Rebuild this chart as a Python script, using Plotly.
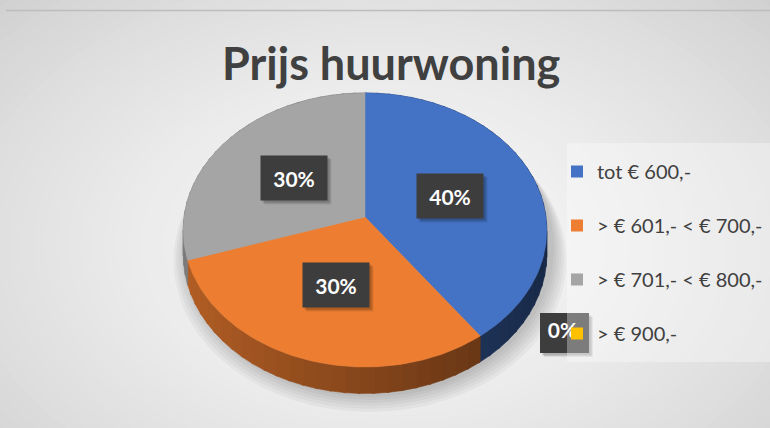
import numpy as np
import plotly.graph_objects as go

# ---------------- data ----------------
categories = ["tot € 600,-", "> € 601,- < € 700,-", "> € 701,- < € 800,-", "> € 900,-"]
values = [40, 30, 30, 0]
colors = ["#4472C4", "#ED7D31", "#A5A5A5", "#FFC000"]
title_text = "Prijs huurwoning"

# ---------------- geometry (pixel-like data space) ----------------
CX, CY = 365.0, 217.0      # pie centre
A, B = 181.0, 135.8        # semi-axes of the tilted disc
P = 0.0948                 # perspective factor
DEPTH = 24.0               # thickness of the pie
LABEL_R = 0.5              # radial position of labels

total = float(sum(values))
shares = [v / total for v in values]
starts = np.concatenate([[0.0], np.cumsum(shares)[:-1]]) * 360.0
ends = np.cumsum(shares) * 360.0


def proj(theta_deg, r=1.0):
    t = np.radians(theta_deg)
    X = r * np.sin(t)
    Z = r * np.cos(t)
    s = 1.0 / (1.0 + P * Z)
    return CX + A * X * s, CY - B * Z * s, s


def hex_to_rgb(h):
    h = h.lstrip("#")
    return tuple(int(h[i:i + 2], 16) for i in (0, 2, 4))


def shade(hexcol, f):
    r, g, b = hex_to_rgb(hexcol)
    return "rgb(%d,%d,%d)" % (int(r * f), int(g * f), int(b * f))


fig = go.Figure()

# ---- side walls (drawn first, hidden at the back by the top faces) ----
for i, (a0, a1) in enumerate(zip(starts, ends)):
    if a1 - a0 <= 0:
        continue
    nseg = max(2, int((a1 - a0) / 4))
    edges = np.linspace(a0, a1, nseg + 1)
    for k in range(nseg):
        th = np.linspace(edges[k], edges[k + 1] + 0.6, 6)
        x, y, s = proj(th)
        xb, yb = x, y + DEPTH * s
        xs = np.concatenate([x, xb[::-1], x[:1]])
        ys = np.concatenate([y, yb[::-1], y[:1]])
        mid = 0.5 * (edges[k] + edges[k + 1])
        Xm = np.sin(np.radians(mid))
        f = 0.56 - 0.2 * Xm
        col = shade(colors[i], f)
        fig.add_trace(go.Scatter(x=xs, y=ys, fill="toself", mode="lines",
                                 line=dict(width=0.6, color=col), fillcolor=col,
                                 hoverinfo="skip", showlegend=False))

# ---- top faces ----
for i, (a0, a1) in enumerate(zip(starts, ends)):
    if a1 - a0 <= 0:
        continue
    th = np.linspace(a0, a1, 120)
    x, y, s = proj(th)
    xs = np.concatenate([[CX], x, [CX]])
    ys = np.concatenate([[CY], y, [CY]])
    fig.add_trace(go.Scatter(x=xs, y=ys, fill="toself", mode="lines",
                             line=dict(width=0.5, color=colors[i]), fillcolor=colors[i],
                             hoverinfo="skip", showlegend=False))

# ---------------- background shapes ----------------
shapes = []
X0, Y0, X1, Y1 = 6, 10, 770, 428
shapes.append(dict(type="rect", xref="x", yref="y", x0=X0, y0=Y0, x1=X1, y1=Y1,
                   fillcolor="#c8c8c8", line=dict(width=0), layer="below"))
# radial gradient approximation
nlev = 48
for k in range(nlev):
    t = k / (nlev - 1)
    rx = 560 * (1 - t) + 30
    ry = 360 * (1 - t) + 25
    g = int(round(200 + (251 - 200) * t ** 0.75))
    shapes.append(dict(type="circle", xref="x", yref="y",
                       x0=385 - rx, x1=385 + rx, y0=245 - ry, y1=245 + ry,
                       fillcolor="rgb(%d,%d,%d)" % (g, g, g), line=dict(width=0), layer="below"))
# top border line
shapes.append(dict(type="line", xref="x", yref="y", x0=X0, x1=X1, y0=Y0 + 0.5, y1=Y0 + 0.5,
                   line=dict(color="#bdbdbd", width=1.5), layer="below"))
# pie shadow
for k in range(6):
    shapes.append(dict(type="circle", xref="x", yref="y",
                       x0=CX - 183 - 2.5 * k + 4, x1=CX + 183 + 2.5 * k + 6,
                       y0=CY - 128 + 2 * k + 10, y1=CY + 180 + 3 * k,
                       fillcolor="rgba(0,0,0,0.035)", line=dict(width=0), layer="below"))

LEG_X0, LEG_Y0, LEG_Y1 = 567, 143, 362

# ---------------- annotations ----------------
annotations = []


def label_box(xc, yc, text):
    for d, op in ((4, 0.08), (3, 0.10), (2, 0.10)):
        annotations.append(dict(x=xc + d, y=yc + d, xref="x", yref="y", text="",
                                showarrow=False, width=64, height=42,
                                bgcolor="rgba(0,0,0,%.2f)" % op))
    annotations.append(dict(x=xc, y=yc, xref="x", yref="y",
                            text="<b>%s</b>" % text, showarrow=False,
                            width=64, height=42, bgcolor="#3d3d3d",
                            font=dict(family="Lato", size=21, color="white")))


for i, (a0, a1) in enumerate(zip(starts, ends)):
    pct = "%d%%" % round(shares[i] * 100)
    if a1 - a0 <= 0:
        # zero slice: its label box sits beside the pie, partly under the legend
        bx0, bx1, by0, by1 = 540, 589, 313, 353
        for d, op in ((4, 0.08), (3, 0.10), (2, 0.10)):
            shapes.append(dict(type="rect", xref="x", yref="y",
                               x0=bx0 + d, x1=bx1 + d, y0=by0 + d, y1=by1 + d,
                               fillcolor="rgba(0,0,0,%.2f)" % op, line=dict(width=0),
                               layer="below"))
        shapes.append(dict(type="rect", xref="x", yref="y", x0=bx0, x1=bx1, y0=by0, y1=by1,
                           fillcolor="#3d3d3d", line=dict(width=0), layer="below"))
        fig.add_trace(go.Scatter(x=[0.5 * (bx0 + bx1) - 2], y=[0.5 * (by0 + by1)],
                                 mode="text", text=["<b>%s</b>" % pct],
                                 textfont=dict(family="Lato", size=21, color="white"),
                                 hoverinfo="skip", showlegend=False, cliponaxis=False))
        continue
    mid = 0.5 * (a0 + a1)
    xl, yl, _ = proj(mid, LABEL_R)
    label_box(float(xl), float(yl), pct)

# legend box (semi-transparent, over the zero-slice label)
shapes.append(dict(type="rect", xref="x", yref="y", x0=LEG_X0, x1=772, y0=LEG_Y0, y1=LEG_Y1,
                   fillcolor="rgba(255,255,255,0.33)", line=dict(width=0), layer="below"))

# ---- legend entries ----
for i, name in enumerate(categories):
    fig.add_trace(go.Scatter(x=[None], y=[None], mode="markers", name=name,
                             marker=dict(symbol="square", size=12, color=colors[i]),
                             legendgroup="g%d" % i, hoverinfo="skip"))

fig.update_layout(
    width=770, height=428,
    margin=dict(l=0, r=0, t=0, b=0, autoexpand=False),
    paper_bgcolor="white", plot_bgcolor="white",
    xaxis=dict(range=[0, 770], visible=False, fixedrange=True),
    yaxis=dict(range=[428, 0], visible=False, fixedrange=True),
    shapes=shapes,
    annotations=annotations,
    title=dict(text="<b>%s</b>" % title_text, x=0.508, xanchor="center",
               y=1 - 64 / 428, yanchor="middle",
               font=dict(family="Lato", size=45, color="#404040")),
    legend=dict(x=557 / 770, xanchor="left", y=1 - 152 / 428, yanchor="top",
                font=dict(family="Lato", size=20, color="#404040"),
                bgcolor="rgba(0,0,0,0)", tracegroupgap=25, traceorder="grouped"),
    showlegend=True,
)

fig.write_html("out.html", post_script="document.body.style.margin='0';",
               config={"displayModeBar": False})
